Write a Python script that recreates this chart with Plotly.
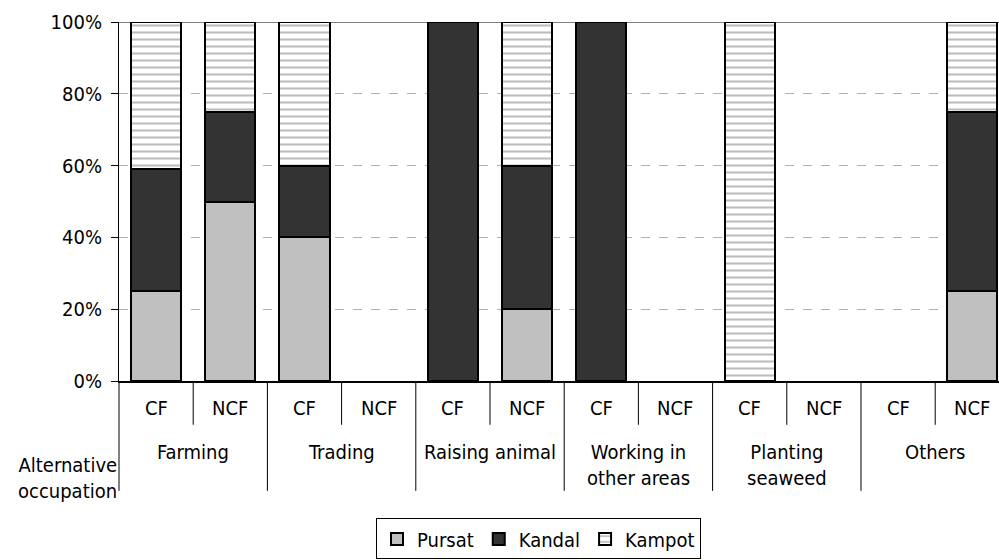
import plotly.graph_objects as go

groups = ["Farming", "Trading", "Raising animal", "Working in<br>other areas",
          "Planting<br>seaweed", "Others"]
subs = ["CF", "NCF"]
categories = [f"{g}|{s}" for g in groups for s in subs]

pursat = [25, 50, 40, 0, 0, 20, 0, 0, 0, 0, 0, 25]
kandal = [34, 25, 20, 0, 100, 40, 100, 0, 0, 0, 0, 50]
kampot = [41, 25, 40, 0, 0, 40, 0, 0, 100, 0, 0, 25]


def frac(vals):
    return [v / 100 if v else None for v in vals]


FONT = "DejaVu Sans Condensed, DejaVu Sans, sans-serif"
FS = 20

fig = go.Figure()
line = dict(color="black", width=2)
fig.add_bar(name="Pursat", x=categories, y=frac(pursat),
            marker=dict(color="#C0C0C0", line=line), width=0.675)
fig.add_bar(name="Kandal", x=categories, y=frac(kandal),
            marker=dict(color="#333333", line=line), width=0.675)
fig.add_bar(name="Kampot", x=categories, y=frac(kampot),
            marker=dict(color="white", line=line,
                        pattern=dict(shape="-", fgcolor="#7a7a7a", bgcolor="white",
                                     size=7, solidity=0.3)),
            width=0.675)

shapes = []
shapes.append(dict(type="line", xref="paper", yref="y", x0=0, x1=1, y0=1, y1=1,
                   line=dict(color="#808080", width=2), layer="below"))
shapes.append(dict(type="line", xref="paper", yref="paper", x0=0, x1=0, y0=0, y1=-0.306,
                   line=dict(color="black", width=1)))
n = len(categories)
for i in range(n - 1):
    b = i + 0.5
    long = (i % 2 == 1)
    shapes.append(dict(type="line", xref="x", yref="paper", x0=b, x1=b, y0=0,
                       y1=-0.306 if long else -0.122,
                       line=dict(color="black", width=1)))

annotations = []
for i, c in enumerate(categories):
    annotations.append(dict(x=c, y=-0.0744, xref="x", yref="paper", text=c.split("|")[1],
                            showarrow=False, yanchor="middle",
                            font=dict(family=FONT, size=FS, color="black")))
for j, g in enumerate(groups):
    annotations.append(dict(x=2 * j + 0.5, y=-0.158, xref="x", yref="paper", text=g,
                            showarrow=False, yanchor="top", align="center",
                            font=dict(family=FONT, size=FS, color="black")))
annotations.append(dict(x=0, y=-0.269, xref="paper", yref="paper",
                        text="Alternative<br>occupation", showarrow=False,
                        xanchor="right", yanchor="middle", align="right", xshift=0,
                        font=dict(family=FONT, size=FS, color="black")))

fig.update_layout(
    width=999, height=560,
    margin=dict(l=118.5, r=0, t=22, b=178.7),
    plot_bgcolor="white", paper_bgcolor="white",
    barmode="stack",
    font=dict(family=FONT, size=FS, color="black"),
    xaxis=dict(type="category", range=[-0.5, 11.36], showticklabels=False,
               showline=True, linecolor="black", linewidth=1.5, ticks="",
               showgrid=False, zeroline=False, fixedrange=True),
    yaxis=dict(range=[0, 1], dtick=0.2, tickformat=".0%", showgrid=True,
               gridcolor="#b0b0b0", griddash="dash", gridwidth=1,
               showline=True, linecolor="black", linewidth=1,
               ticks="outside", ticklen=7, tickcolor="black",
               ticklabelstandoff=5, zeroline=False,
               tickfont=dict(family=FONT, size=FS, color="black")),
    legend=dict(orientation="h", x=0.4767, xanchor="center", y=-0.383, yanchor="top",
                bordercolor="black", borderwidth=1, bgcolor="white",
                font=dict(family=FONT, size=FS, color="black"),
                itemwidth=30, traceorder="normal"),
    shapes=shapes, annotations=annotations,
    showlegend=True,
)
fig.write_html("out.html", config={"displayModeBar": False},
               post_script="document.body.style.margin='0';"
                           "document.body.style.overflow='hidden';")
